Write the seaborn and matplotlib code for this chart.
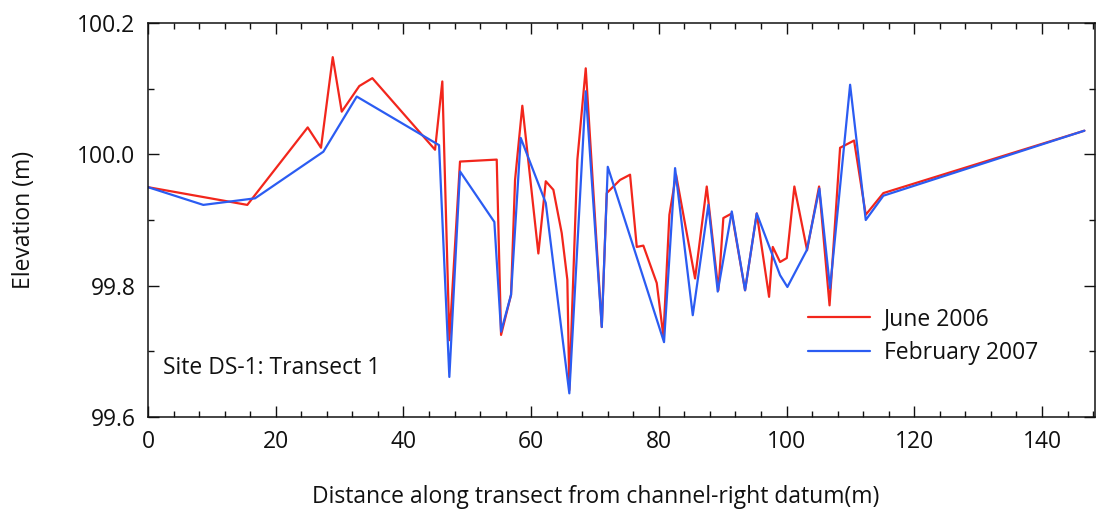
import numpy as np
import pandas as pd
import matplotlib
matplotlib.use("Agg")
import matplotlib.pyplot as plt
from matplotlib.ticker import MultipleLocator, FormatStrFormatter
import seaborn as sns

# Transect survey, June 2006
june_dist = [0.0, 15.55, 25.01, 27.09, 28.93, 30.34, 33.09, 35.13, 44.95, 46.09,
             47.2, 48.86, 54.61, 55.29, 56.85, 57.48, 58.62, 61.13, 62.29, 63.48,
             64.79, 65.67, 65.98, 67.24, 68.55, 71.06, 71.84, 73.92, 75.49, 76.54,
             77.57, 79.67, 80.71, 81.65, 82.69, 85.67, 87.50, 89.32, 90.10, 91.42,
             93.50, 95.33, 97.26, 97.84, 98.98, 100.03, 101.22, 103.21, 105.09, 106.73,
             108.38, 110.57, 112.40, 115.16, 146.64]
june_elev = [99.950, 99.923, 100.041, 100.010, 100.148, 100.065, 100.104, 100.116, 100.007, 100.111,
             99.717, 99.989, 99.992, 99.725, 99.786, 99.961, 100.074, 99.849, 99.959, 99.946,
             99.880, 99.809, 99.641, 99.992, 100.131, 99.737, 99.941, 99.961, 99.969, 99.859,
             99.861, 99.804, 99.723, 99.908, 99.969, 99.811, 99.951, 99.793, 99.903, 99.910,
             99.793, 99.910, 99.783, 99.859, 99.836, 99.842, 99.951, 99.854, 99.951, 99.770,
             100.010, 100.021, 99.908, 99.941, 100.036]

# Transect survey, February 2007
feb_dist = [0.0, 8.66, 16.76, 27.46, 32.69, 45.58, 47.19, 48.86, 54.24, 55.29,
            56.85, 58.37, 62.29, 65.98, 68.55, 71.06, 72.00, 80.81, 82.54, 85.31,
            87.75, 89.22, 91.42, 93.50, 95.33, 98.98, 100.13, 103.16, 105.14, 106.81,
            109.95, 112.40, 115.16, 146.64]
feb_elev = [99.950, 99.923, 99.933, 100.004, 100.088, 100.014, 99.661, 99.974, 99.897, 99.730,
            99.786, 100.025, 99.926, 99.636, 100.096, 99.737, 99.981, 99.714, 99.979, 99.755,
            99.923, 99.791, 99.913, 99.793, 99.910, 99.816, 99.798, 99.854, 99.948, 99.796,
            100.106, 99.900, 99.937, 100.036]

series_names = ["June 2006", "February 2007"]
series_colors = ["#f2261c", "#2b5cf2"]

df = pd.concat([
    pd.DataFrame({"dist": june_dist, "elev": june_elev, "survey": series_names[0]}),
    pd.DataFrame({"dist": feb_dist, "elev": feb_elev, "survey": series_names[1]}),
], ignore_index=True)

sns.set_theme(style="ticks")
plt.rcParams["font.family"] = ["Open Sans", "DejaVu Sans"]

FS = 16.5
ink = "#111111"

fig = plt.figure(figsize=(10.97, 5.18), dpi=100)
fig.subplots_adjust(left=148 / 1097, right=1095 / 1097,
                    top=1 - 23 / 518, bottom=1 - 417 / 518)
ax = fig.add_subplot(111)

sns.lineplot(data=df, x="dist", y="elev", hue="survey", hue_order=series_names,
             palette=series_colors, estimator=None, sort=False, linewidth=1.6,
             ax=ax)

ax.set_xlim(0, 148.3)
ax.set_ylim(99.6, 100.2)
ax.xaxis.set_major_locator(MultipleLocator(20))
ax.xaxis.set_minor_locator(MultipleLocator(4))
ax.yaxis.set_major_locator(MultipleLocator(0.2))
ax.yaxis.set_minor_locator(MultipleLocator(0.1))
ax.yaxis.set_major_formatter(FormatStrFormatter("%.1f"))

ax.tick_params(which="both", direction="in", top=True, right=True,
               labelsize=FS, colors=ink, width=1.0)
ax.tick_params(which="major", length=8, pad=9)
ax.tick_params(which="minor", length=4)
for side in ax.spines.values():
    side.set_linewidth(1.1)
    side.set_color(ink)

ax.set_xlabel("Distance along transect from channel-right datum(m)",
              fontsize=FS, color=ink)
ax.xaxis.set_label_coords(0.473, -0.172)
ax.set_ylabel("Elevation (m)", fontsize=FS, labelpad=30, color=ink)

ax.text(0.016, 0.124, "Site DS-1: Transect 1", transform=ax.transAxes,
        fontsize=FS, color=ink, va="center", ha="left")

leg = ax.legend(title=None, frameon=False, fontsize=FS, loc="upper left",
                bbox_to_anchor=(0.697, 0.278), borderaxespad=0, borderpad=0,
                handlelength=2.7, handletextpad=0.6, labelspacing=0.4)
for t in leg.get_texts():
    t.set_color(ink)

fig.savefig("out.png", dpi=100)
